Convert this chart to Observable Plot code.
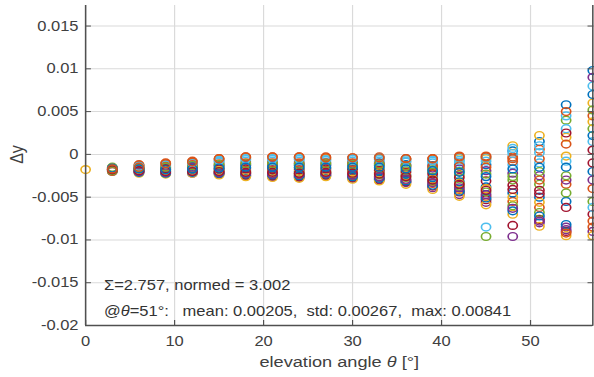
<!DOCTYPE html>
<html>
<head>
<meta charset="utf-8">
<script src="https://cdn.jsdelivr.net/npm/d3@7"></script>
<script src="https://cdn.jsdelivr.net/npm/@observablehq/plot@0.6"></script>
<style>
html, body { margin: 0; padding: 0; background: #ffffff; overflow: hidden; }
#chart svg { display: block; }
</style>
</head>
<body>
<div id="chart"></div>
<script>
// elevation angles (x positions of the point columns)
const angles = [0, 3, 6, 9, 12, 15, 18, 21, 24, 27, 30, 33, 36, 39, 42, 45, 48, 51, 54, 57];

// Δy values per elevation angle; entry k belongs to series k (null = not visible)
const dy00 = [null,null,null,null,null,null,null,null,null,null,null,null,null,null,null,null,-0.00178,null,null,null,null,null,null];
const dy03 = [-0.0017,-0.0018,-0.0016,-0.0019,-0.0017,-0.0020,-0.0018,-0.0016,-0.0019,-0.0017,-0.0018,-0.0015,-0.0019,-0.0018,-0.0017,-0.0020,-0.0016,-0.0018,-0.0019,-0.0017,-0.0018,-0.0016,-0.0017];
const dy06 = [-0.0016,-0.0019,-0.0013,-0.0021,-0.0017,-0.0014,-0.0020,-0.0018,-0.0012,-0.0022,-0.0016,-0.0019,-0.0015,-0.0017,-0.0021,-0.0013,-0.0018,-0.0020,-0.0016,-0.0014,-0.0019,-0.0017,-0.0015];
const dy09 = [-0.0015,-0.0020,-0.0011,-0.0022,-0.0017,-0.0013,-0.0021,-0.0018,-0.0010,-0.0023,-0.0016,-0.0019,-0.0012,-0.0017,-0.0022,-0.0014,-0.0019,-0.0021,-0.0015,-0.0012,-0.0020,-0.0018,-0.0011];
const dy12 = [-0.0014,-0.0020,-0.0009,-0.0022,-0.0016,-0.0011,-0.0021,-0.0018,-0.0008,-0.0022,-0.0015,-0.0019,-0.0010,-0.0017,-0.0021,-0.0012,-0.0019,-0.0020,-0.0013,-0.0010,-0.0020,-0.0017,-0.0009];
const dy15 = [-0.0013,-0.0021,-0.0006,-0.0023,-0.0016,-0.0009,-0.0022,-0.0018,-0.0005,-0.0024,-0.0014,-0.0020,-0.0008,-0.0017,-0.0022,-0.0011,-0.0019,-0.0021,-0.0012,-0.0007,-0.0020,-0.0016,-0.0005];
const dy18 = [-0.0012,-0.0022,-0.0004,-0.0025,-0.0016,-0.0008,-0.0024,-0.0019,-0.0003,-0.0026,-0.0013,-0.0021,-0.0006,-0.0017,-0.0023,-0.0010,-0.0020,-0.0022,-0.0011,-0.0005,-0.0021,-0.0015,-0.0003];
const dy21 = [-0.0012,-0.0023,-0.0005,-0.0026,-0.0016,-0.0008,-0.0025,-0.0019,-0.0003,-0.0027,-0.0013,-0.0022,-0.0006,-0.0018,-0.0024,-0.0010,-0.0020,-0.0023,-0.0011,-0.0005,-0.0021,-0.0015,-0.0003];
const dy24 = [-0.0011,-0.0024,-0.0004,-0.0027,-0.0016,-0.0008,-0.0026,-0.0020,-0.0003,-0.0028,-0.0013,-0.0022,-0.0006,-0.0018,-0.0025,-0.0010,-0.0021,-0.0023,-0.0012,-0.0005,-0.0022,-0.0015,-0.0003];
const dy27 = [-0.0012,-0.0022,-0.0005,-0.0025,-0.0016,-0.0009,-0.0024,-0.0019,-0.0003,-0.0026,-0.0013,-0.0021,-0.0007,-0.0017,-0.0023,-0.0010,-0.0020,-0.0022,-0.0011,-0.0006,-0.0021,-0.0015,-0.0004];
const dy30 = [-0.0011,-0.0025,-0.0005,-0.0028,-0.0017,-0.0008,-0.0027,-0.0020,-0.0004,-0.0029,-0.0013,-0.0023,-0.0006,-0.0018,-0.0026,-0.0010,-0.0021,-0.0024,-0.0012,-0.0005,-0.0022,-0.0015,-0.0004];
const dy33 = [-0.0010,-0.0027,-0.0005,-0.0030,-0.0017,-0.0008,-0.0029,-0.0021,-0.0003,-0.0031,-0.0013,-0.0024,-0.0006,-0.0019,-0.0028,-0.0011,-0.0022,-0.0026,-0.0012,-0.0004,-0.0023,-0.0015,-0.0004];
const dy36 = [-0.0012,-0.0030,-0.0006,-0.0033,-0.0019,-0.0009,-0.0032,-0.0024,-0.0005,-0.0035,-0.0015,-0.0027,-0.0008,-0.0021,-0.0031,-0.0013,-0.0025,-0.0029,-0.0014,-0.0006,-0.0026,-0.0017,-0.0005];
const dy39 = [-0.0013,-0.0034,-0.0006,-0.0039,-0.0021,-0.0010,-0.0037,-0.0027,-0.0005,-0.0041,-0.0016,-0.0031,-0.0008,-0.0023,-0.0036,-0.0014,-0.0029,-0.0033,-0.0018,-0.0007,-0.0030,-0.0019,-0.0005];
const dy42 = [-0.0012,-0.0041,-0.0005,-0.0047,-0.0024,-0.0009,-0.0044,-0.0032,-0.0002,-0.0049,-0.0017,-0.0037,-0.0007,-0.0027,-0.0043,-0.0014,-0.0034,-0.0039,-0.0020,-0.0004,-0.0035,-0.0021,-0.0003];
const dy45 = [-0.0012,-0.0049,-0.0005,-0.0056,-0.0096,-0.0085,-0.0053,-0.0038,-0.0002,-0.0059,-0.0019,-0.0044,-0.0008,-0.0031,-0.0051,-0.0015,-0.0040,-0.0047,-0.0023,-0.0004,-0.0042,-0.0026,-0.0003];
const dy48 = [0.0004,-0.0055,0.0010,-0.0096,-0.0030,-0.0012,-0.0083,-0.0045,-0.0003,-0.0070,-0.0022,-0.0060,0.0007,-0.0036,-0.0066,-0.0008,-0.0050,-0.0063,-0.0026,0.0001,-0.0041,-0.0017,-0.0005];
const dy51 = [0.0015,-0.0062,0.0022,-0.0080,-0.0035,-0.0010,-0.0076,-0.0050,0.0006,-0.0084,-0.0025,-0.0068,0.0010,-0.0042,-0.0072,-0.0005,-0.0056,-0.0078,-0.0020,0.0002,-0.0046,-0.0015,-0.0030];
const dy54 = [0.0058,-0.0035,0.0020,-0.0085,0.0040,0.0045,-0.0090,-0.0055,0.0050,-0.0095,-0.0030,-0.0025,0.0030,-0.0062,-0.0082,0.0012,-0.0002,-0.0088,-0.0045,-0.0008,0.0025,-0.0015,-0.0092];
const dy57 = [0.0098,-0.0040,0.0060,-0.0090,0.0030,0.0080,-0.0070,-0.0020,0.0045,-0.0095,0.0090,-0.0055,0.0015,-0.0010,0.0070,-0.0085,0.0038,-0.0030,0.0052,-0.0062,0.0005,0.0022,-0.0078];

// axes
const xTicks = [0, 10, 20, 30, 40, 50];
const yTicks = [-0.02, -0.015, -0.01, -0.005, 0, 0.005, 0.01, 0.015];
const xDomain = [0, 57];
const yDomain = [-0.02, 0.0174];

// texts
const xLabel = "elevation angle θ [°]";
const yLabel = "Δy";
const annotation1 = "Σ=2.757, normed = 3.002";
const annotation2 = "@θ=51°:   mean: 0.00205,  std: 0.00267,  max: 0.00841";

// MATLAB default colour order
const palette = ["#0072BD", "#D95319", "#EDB120", "#7E2F8E", "#77AC30", "#4DBEEE", "#A2142F"];

const columns = [dy00, dy03, dy06, dy09, dy12, dy15, dy18, dy21, dy24, dy27, dy30, dy33, dy36, dy39, dy42, dy45, dy48, dy51, dy54, dy57];
const nSeries = dy03.length;
const points = [];
for (let s = 0; s < nSeries; s++) {
  for (let c = 0; c < angles.length; c++) {
    if (columns[c][s] == null) continue;
    points.push({angle: angles[c], dy: columns[c][s], series: s});
  }
}

const W = 503, H = 377, OUT_W = 594;
const textColor = "#404040";
const lineColor = "#505050";
const fmt = d => String(d);

const chart = Plot.plot({
  width: W,
  height: H,
  marginLeft: 72,
  marginRight: 1.5,
  marginTop: 5,
  marginBottom: 52,
  style: {fontFamily: "'Liberation Sans', Arial, sans-serif", fontSize: "14px", background: "#ffffff", color: textColor, overflow: "visible"},
  x: {domain: xDomain},
  y: {domain: yDomain},
  marks: [
    Plot.gridX(xTicks, {stroke: "#dadada", strokeOpacity: 1, strokeWidth: 1}),
    Plot.gridY(yTicks, {stroke: "#dadada", strokeOpacity: 1, strokeWidth: 1}),
    Plot.dot(points, {x: "angle", y: "dy", r: 3.9, fill: "none", strokeWidth: 1.4, stroke: d => palette[d.series % palette.length]}),
    Plot.ruleX(xDomain, {stroke: lineColor, strokeWidth: 1.3}),
    Plot.ruleY([yDomain[0]], {stroke: lineColor, strokeWidth: 1.4}),
    Plot.axisY(yTicks, {anchor: "left", tickSize: 5, dx: 5, tickPadding: 6, tickFormat: fmt, label: null, stroke: lineColor, fill: textColor}),
    Plot.axisY(yTicks, {anchor: "right", tickSize: 5, dx: -5, tickFormat: () => "", label: null, stroke: lineColor}),
    Plot.axisX(xTicks, {anchor: "bottom", tickSize: 5, dy: -5, tickPadding: 11, tickFormat: fmt, label: null, stroke: lineColor, fill: textColor}),
    Plot.text([yLabel], {text: d => d, frameAnchor: "left", textAnchor: "middle", lineAnchor: "middle", rotate: -90, dx: -58, dy: -11, fontSize: 16, fill: textColor}),
    Plot.text([xLabel], {text: d => d, frameAnchor: "bottom", textAnchor: "middle", lineAnchor: "middle", dy: 37, fontSize: 15.4, fill: textColor}),
    Plot.text([annotation1], {text: d => d, frameAnchor: "bottom-left", textAnchor: "start", lineAnchor: "middle", dx: 15.5, dy: -40, fontSize: 14, fill: "#333333"}),
    Plot.text([annotation2], {text: d => d, frameAnchor: "bottom-left", textAnchor: "start", lineAnchor: "middle", dx: 15.5, dy: -13.5, fontSize: 14, fill: "#333333"})
  ]
});

// the reference figure is horizontally stretched: draw at W and stretch to OUT_W
chart.setAttribute("width", OUT_W);
chart.setAttribute("height", H);
chart.setAttribute("preserveAspectRatio", "none");
chart.style.width = OUT_W + "px";
chart.style.height = H + "px";
chart.style.maxWidth = "none";

// italic theta, preserved spaces
const NS = "http://www.w3.org/2000/svg";
chart.querySelectorAll("text").forEach(t => {
  t.style.whiteSpace = "pre";
  if (t.children.length === 0 && t.textContent.includes("θ")) {
    const parts = t.textContent.split("θ");
    t.textContent = "";
    parts.forEach((p, i) => {
      if (i > 0) {
        const ts = document.createElementNS(NS, "tspan");
        ts.setAttribute("font-style", "italic");
        ts.textContent = "θ";
        t.appendChild(ts);
      }
      if (p) t.appendChild(document.createTextNode(p));
    });
  }
});

document.getElementById("chart").appendChild(chart);
</script>
</body>
</html>
